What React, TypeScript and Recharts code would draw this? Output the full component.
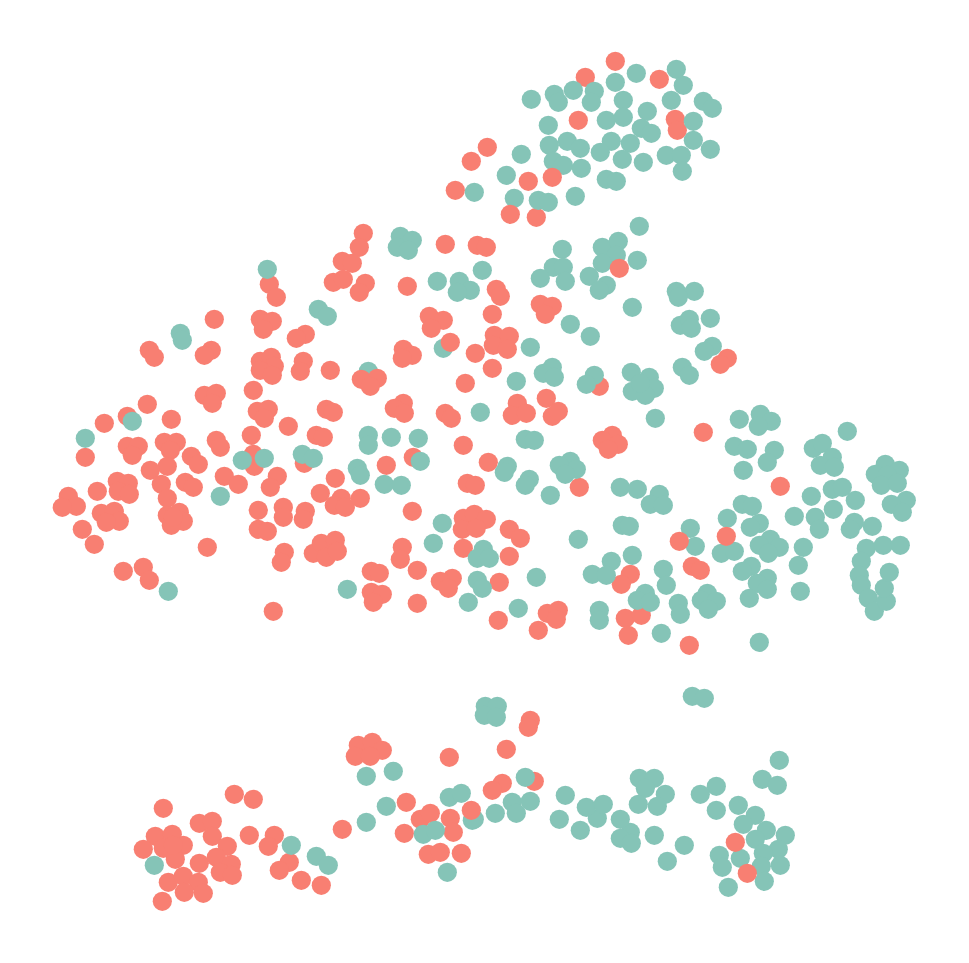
import React from 'react';
import { ScatterChart, Scatter, XAxis, YAxis } from 'recharts';

type Pair = [number, number];

// values, drawn back to front
const salmonPairs: Pair[] = [
  [269, 284], [276, 297], [333, 282], [342, 261], [214, 319], [260, 319], [272, 321], [263, 329], [305, 334], [296, 338],
  [149, 350], [154, 357], [211, 350], [204, 355], [260, 361], [271, 357], [274, 366], [260, 370], [272, 375], [303, 361],
  [300, 371], [330, 370], [253, 390], [204, 395], [216, 393], [212, 403], [326, 409], [333, 412], [257, 411], [268, 409],
  [264, 418], [147, 404], [127, 416], [104, 423], [171, 419], [288, 426], [316, 435], [323, 437], [251, 435], [216, 440],
  [220, 447], [85, 457], [127, 446], [138, 446], [132, 455], [164, 442], [176, 442], [170, 450], [191, 456], [198, 464],
  [167, 466], [150, 470], [253, 454], [254, 466], [304, 463], [277, 476], [270, 487], [335, 478], [224, 476], [238, 484],
  [185, 482], [193, 487], [161, 484], [117, 481], [128, 483], [118, 491], [129, 494], [97, 491], [68, 496], [76, 506],
  [62, 507], [167, 498], [320, 493], [341, 498], [334, 505], [345, 507], [360, 498], [258, 510], [283, 507], [283, 517],
  [305, 511], [303, 519], [101, 513], [114, 511], [119, 521], [106, 522], [167, 515], [179, 512], [183, 521], [171, 525],
  [173, 517], [82, 529], [258, 529], [267, 531], [94, 544], [207, 547], [284, 552], [281, 562], [313, 553], [321, 543],
  [335, 540], [326, 557], [337, 551], [143, 567], [123, 571], [149, 580], [273, 611],
  [363, 233], [359, 247], [352, 263], [343, 279], [365, 283], [359, 292], [445, 244], [477, 245], [486, 247], [407, 286],
  [496, 289], [500, 296], [540, 304], [552, 306], [545, 314], [492, 314], [429, 316], [443, 320], [431, 328], [494, 335],
  [509, 336], [493, 345], [507, 349], [403, 349], [412, 355], [402, 358], [475, 353], [492, 368], [599, 386], [465, 383],
  [546, 398], [517, 403], [512, 415], [526, 413], [552, 416], [558, 411], [403, 403], [394, 408], [404, 413], [445, 413],
  [451, 418], [612, 435], [602, 440], [618, 444], [608, 449], [463, 445], [413, 457], [386, 465], [488, 462], [579, 487],
  [467, 483], [475, 485], [412, 511], [463, 518], [474, 514], [486, 519], [462, 529], [476, 528], [509, 529], [520, 538],
  [402, 547], [400, 559], [463, 548], [509, 556], [630, 574], [621, 584], [417, 570], [371, 571], [379, 573], [452, 578],
  [440, 581], [448, 588], [499, 582], [371, 592], [382, 594], [373, 602], [417, 603], [498, 620], [547, 613], [558, 610],
  [556, 619], [538, 630], [625, 618], [641, 615], [628, 635], [727, 358], [720, 364], [703, 432], [780, 486], [692, 566],
  [700, 570], [689, 645],
  [615, 61], [585, 77], [659, 79], [487, 147], [471, 161], [455, 190], [528, 181], [536, 217], [675, 119], [677, 130],
  [163, 808], [234, 794], [253, 799], [358, 745], [372, 742], [382, 750], [355, 756], [370, 756], [449, 757], [406, 802],
  [342, 829], [404, 833], [420, 819], [430, 813], [450, 818], [453, 832], [428, 854], [440, 852], [461, 853], [199, 823],
  [212, 821], [212, 836], [227, 846], [249, 835], [274, 835], [268, 846], [155, 836], [172, 834], [143, 849], [163, 848],
  [183, 845], [175, 859], [199, 863], [216, 857], [231, 864], [220, 872], [232, 875], [168, 882], [183, 876], [198, 882],
  [184, 892], [203, 893], [162, 901], [173, 845], [289, 862], [279, 870], [301, 880], [321, 885], [530, 720], [528, 727],
  [506, 749], [502, 783], [492, 790], [534, 781],
];

const tealPairs: Pair[] = [
  [267, 269], [318, 309], [327, 316], [180, 333], [182, 340], [132, 421], [85, 438], [242, 460], [264, 458], [302, 454],
  [313, 458], [220, 496], [168, 591], [347, 589],
  [400, 236], [412, 240], [397, 247], [408, 250], [562, 249], [602, 247], [618, 241], [616, 255], [602, 263], [553, 267],
  [563, 267], [540, 278], [565, 281], [589, 276], [606, 285], [599, 290], [482, 270], [437, 281], [459, 281], [470, 290],
  [457, 292], [632, 307], [570, 324], [590, 336], [530, 347], [443, 348], [368, 371], [552, 367], [543, 373], [554, 377],
  [516, 381], [594, 375], [586, 384], [631, 372], [632, 391], [480, 412], [525, 439], [534, 440], [368, 435], [368, 445],
  [391, 437], [418, 438], [420, 461], [507, 466], [504, 472], [357, 468], [360, 475], [384, 484], [401, 485], [529, 479],
  [525, 485], [570, 461], [559, 465], [576, 469], [565, 474], [550, 495], [442, 523], [433, 543], [578, 539], [483, 549],
  [477, 558], [489, 558], [611, 561], [592, 574], [606, 575], [477, 580], [482, 588], [536, 577], [468, 602], [518, 608],
  [599, 610], [599, 620], [639, 226], [637, 260],
  [676, 291], [694, 291], [678, 297], [680, 325], [689, 319], [691, 328], [710, 318], [712, 346], [704, 351], [682, 367],
  [689, 375], [649, 377], [654, 388], [645, 395], [640, 383], [655, 418], [739, 419], [760, 414], [771, 421], [758, 426],
  [734, 446], [747, 449], [774, 450], [767, 462], [743, 470], [847, 431], [813, 448], [822, 443], [832, 457], [820, 465],
  [834, 467], [885, 464], [875, 474], [899, 470], [887, 475], [881, 485], [897, 483], [811, 496], [832, 489], [842, 487],
  [855, 500], [833, 509], [906, 500], [891, 504], [902, 512], [620, 487], [637, 489], [659, 494], [650, 504], [663, 505],
  [742, 504], [752, 506], [727, 518], [759, 523], [750, 527], [794, 516], [815, 517], [819, 529], [854, 522], [850, 529],
  [872, 526], [622, 525], [629, 526], [690, 528], [695, 546], [770, 539], [759, 545], [779, 547], [768, 553], [721, 553],
  [734, 551], [803, 547], [798, 565], [866, 548], [883, 545], [900, 545], [861, 561], [859, 575], [861, 585], [868, 598],
  [874, 611], [886, 601], [884, 588], [889, 572], [632, 555], [663, 569], [666, 585], [751, 566], [742, 571], [767, 578],
  [757, 583], [767, 589], [749, 598], [800, 591], [645, 593], [637, 600], [650, 602], [678, 603], [680, 614], [707, 593],
  [701, 600], [716, 601], [708, 609], [661, 633], [759, 642],
  [676, 69], [636, 73], [615, 82], [683, 85], [531, 99], [554, 94], [558, 102], [573, 90], [594, 91], [591, 102],
  [623, 100], [671, 100], [703, 101], [712, 108], [647, 111], [606, 120], [623, 117], [548, 125], [693, 121], [641, 128],
  [651, 133], [693, 140], [549, 145], [567, 141], [580, 148], [611, 141], [630, 143], [600, 152], [710, 149], [666, 155],
  [681, 155], [622, 159], [643, 162], [553, 161], [563, 165], [581, 168], [682, 171], [506, 175], [606, 179], [616, 181],
  [521, 154], [474, 192], [514, 198], [538, 200], [548, 202], [575, 196],
  [366, 776], [393, 771], [386, 806], [366, 822], [449, 797], [461, 793], [423, 834], [435, 830], [472, 820], [447, 872],
  [154, 865], [291, 845], [316, 856], [328, 865],
  [485, 706], [497, 706], [484, 715], [496, 717], [525, 777], [692, 696], [704, 698], [779, 760], [762, 779], [777, 785],
  [716, 786], [700, 794], [639, 778], [654, 778], [645, 788], [665, 794], [638, 804], [657, 806], [716, 810], [738, 805],
  [755, 815], [743, 824], [766, 830], [755, 839], [785, 835], [778, 849], [763, 853], [780, 865], [761, 866], [764, 881],
  [728, 887], [740, 858], [719, 855], [722, 867], [667, 861], [684, 845], [654, 835], [630, 832], [620, 838], [631, 843],
  [620, 819], [559, 819], [580, 830], [597, 818], [586, 807], [603, 804], [565, 795], [512, 802], [530, 801], [516, 813],
  [495, 813], [474, 819],
];

// the few salmon points that sit over a teal one
const salmonTopPairs: Pair[] = [
  [619, 268], [450, 342], [361, 379], [377, 378], [370, 386], [578, 120], [552, 177], [510, 214], [726, 536], [679, 541],
  [471, 810], [735, 842], [747, 873],
];

const toPoints = (pairs: Pair[]) => pairs.map(([x, y]) => ({ x, y }));

const SALMON = '#f87f72';
const TEAL = '#85c4b7';

const Dot = ({ cx, cy, fill }: any) => <circle cx={cx + 0.3} cy={cy + 0.3} r={9.6} fill={fill} />;

const App = () => {
  return (
    <div style={{ position: 'absolute', left: 0, top: 0, width: 969, height: 963, background: '#fff' }}>
      <ScatterChart width={969} height={963} margin={{ top: 0, right: 0, bottom: 0, left: 0 }}>
        <XAxis type="number" dataKey="x" domain={[0, 969]} hide />
        <YAxis type="number" dataKey="y" domain={[0, 963]} reversed hide />
        <Scatter data={toPoints(salmonPairs)} fill={SALMON} shape={<Dot />} isAnimationActive={false} />
        <Scatter data={toPoints(tealPairs)} fill={TEAL} shape={<Dot />} isAnimationActive={false} />
        <Scatter data={toPoints(salmonTopPairs)} fill={SALMON} shape={<Dot />} isAnimationActive={false} />
      </ScatterChart>
    </div>
  );
};

export default App;
